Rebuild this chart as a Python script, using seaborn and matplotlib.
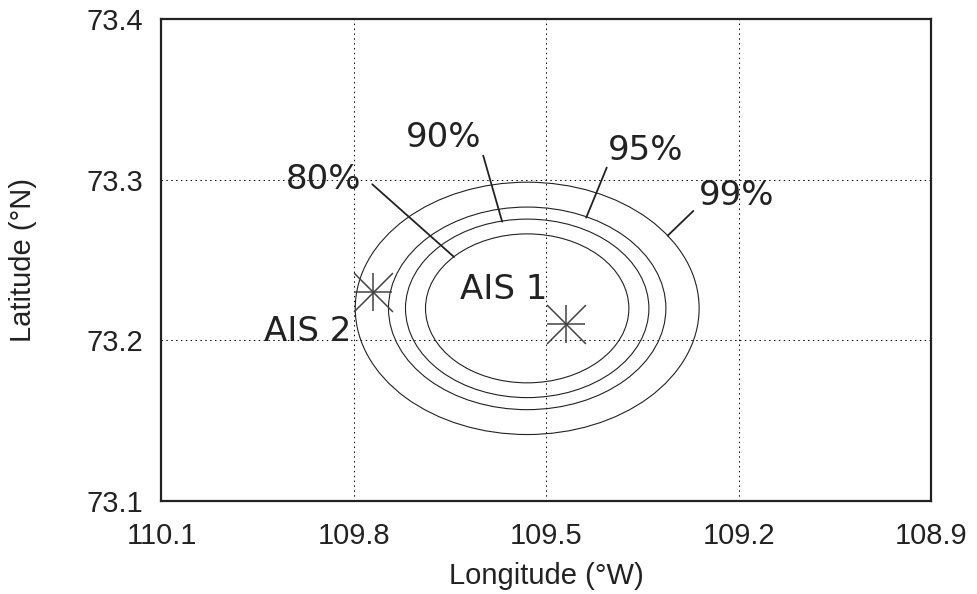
import matplotlib
matplotlib.use("Agg")
import matplotlib.pyplot as plt
import seaborn as sns
import pandas as pd
from matplotlib.patches import Ellipse

# confidence ellipses around the estimated position (degrees)
center_lon = 109.53
center_lat = 73.22
levels = ["80%", "90%", "95%", "99%"]
semi_lon = [0.1585, 0.1897, 0.2162, 0.268]
semi_lat = [0.0464, 0.0556, 0.0631, 0.0786]

# level labels and their leader lines
label_lon = [109.847, 109.660, 109.345, 109.203]
label_lat = [73.300, 73.3265, 73.3184, 73.2903]
leader_lon0 = [109.7715, 109.5985, 109.406, 109.271]
leader_lat0 = [73.2973, 73.3151, 73.3077, 73.2807]
leader_lon1 = [109.644, 109.569, 109.438, 109.311]
leader_lat1 = [73.252, 73.274, 73.2765, 73.2653]

# AIS reports
ais_names = ["AIS 1", "AIS 2"]
ais_lon = [109.47, 109.77]
ais_lat = [73.21, 73.23]
ais_text_lon = [109.567, 109.8725]
ais_text_lat = [73.2315, 73.2056]

xticks = [110.1, 109.8, 109.5, 109.2, 108.9]
xtick_labels = ["110.1", "109.8", "109.5", "109.2", "108.9"]
yticks = [73.1, 73.2, 73.3, 73.4]
ytick_labels = ["73.1", "73.2", "73.3", "73.4"]

sns.set_theme(style="white")
plt.rcParams["font.family"] = ["Liberation Sans", "DejaVu Sans"]

fig = plt.figure(figsize=(9.77, 5.94), dpi=100)
ax = fig.add_axes([0.1653, 0.1566, 0.788, 0.8107])

ink = "#222222"

for a, b in zip(semi_lon, semi_lat):
    ax.add_patch(Ellipse((center_lon, center_lat), 2 * a, 2 * b,
                         fill=False, edgecolor=ink, linewidth=0.8))

for i, lev in enumerate(levels):
    ax.plot([leader_lon0[i], leader_lon1[i]], [leader_lat0[i], leader_lat1[i]],
            color=ink, linewidth=1.3)
    ax.text(label_lon[i], label_lat[i], lev, fontsize=24.5, color=ink,
            family="DejaVu Sans", ha="center", va="center")

ais = pd.DataFrame({"lon": ais_lon, "lat": ais_lat, "name": ais_names})
for m in ["+", "x"]:
    sns.scatterplot(data=ais, x="lon", y="lat", marker=m, s=784,
                    color="#444444", linewidth=1.1, ax=ax, legend=False)

for name, x, y in zip(ais_names, ais_text_lon, ais_text_lat):
    ax.text(x, y, name, fontsize=24.5, color=ink, family="DejaVu Sans",
            ha="center", va="center")

ax.set_xlim(110.1, 108.9)
ax.set_ylim(73.1, 73.4)
ax.set_xticks(xticks)
ax.set_xticklabels(xtick_labels)
ax.set_yticks(yticks)
ax.set_yticklabels(ytick_labels)
ax.tick_params(axis="both", length=0, labelsize=21, colors=ink)
ax.tick_params(axis="x", pad=15)
ax.tick_params(axis="y", pad=13)
ax.grid(True, color="black", linestyle=(0, (1.5, 3.5)), linewidth=0.7)

for sp in ax.spines.values():
    sp.set_linewidth(1.6)
    sp.set_color(ink)

ax.set_xlabel("Longitude (°W)", fontsize=21, color=ink, labelpad=9)
ax.set_ylabel("Latitude (°N)", fontsize=21, color=ink, labelpad=36)

fig.savefig("out.png", dpi=100, facecolor="white")
